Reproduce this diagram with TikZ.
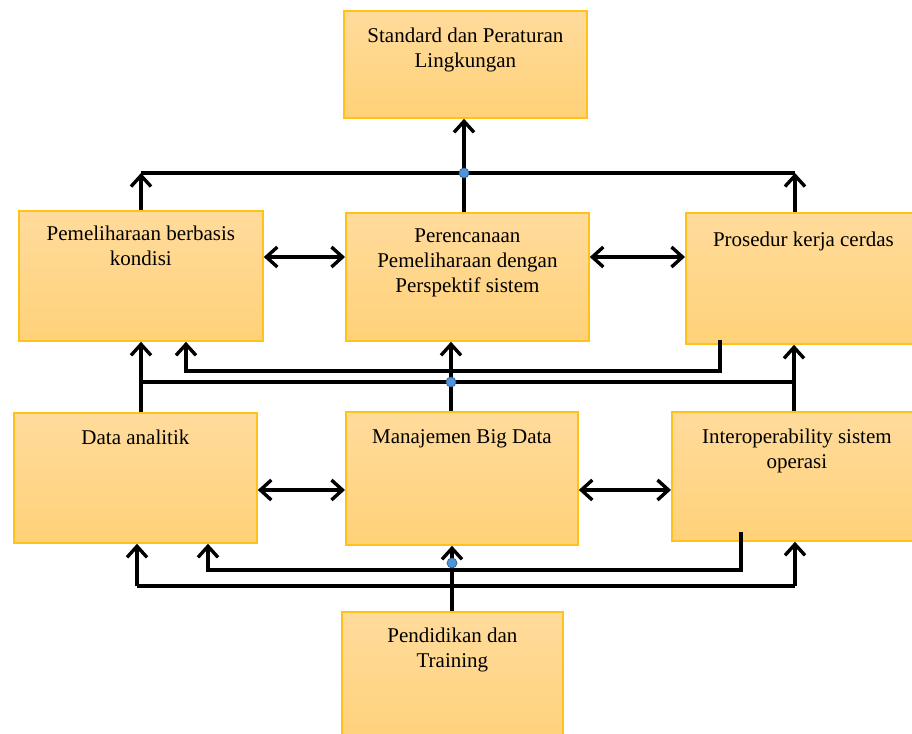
\documentclass[tikz,border=0pt]{standalone}
\usepackage{fontspec}
\setmainfont{Liberation Serif}
\usetikzlibrary{arrows.meta,calc}
\definecolor{boxtop}{HTML}{FFDB9C}
\definecolor{boxbot}{HTML}{FFD178}
\definecolor{boxedge}{HTML}{FFC21A}
\definecolor{dotblue}{HTML}{4F94DA}
\definecolor{dotedge}{HTML}{2E5F8F}
\begin{document}
\begin{tikzpicture}[x=1pt,y=-1pt,
  box/.style={draw=boxedge, line width=1.8pt, top color=boxtop, bottom color=boxbot, anchor=north west, inner sep=0pt},
  lbl/.style={anchor=north, align=center, inner sep=0pt, font=\fontsize{21}{25}\selectfont},
  conn/.style={line width=3.4pt, black},
  arr/.style={conn, -{Straight Barb[length=11pt,width=20pt]}},
  darr/.style={conn, {Straight Barb[length=11pt,width=20pt]}-{Straight Barb[length=11pt,width=20pt]}},
  dot/.style={circle, fill=dotblue, draw=dotedge, line width=0.7pt, inner sep=0pt, minimum size=10pt}]
\useasboundingbox (0,0) rectangle (912,733);
% boxes
\node[box, minimum width=243pt, minimum height=107pt] (std) at (343,10) {};
\node[box, minimum width=244pt, minimum height=130pt] (pem) at (18,210) {};
\node[box, minimum width=243pt, minimum height=128pt] (per) at (345,212) {};
\node[box, minimum width=235pt, minimum height=131pt] (pro) at (685,212) {};
\node[box, minimum width=243pt, minimum height=130pt] (da) at (13,412) {};
\node[box, minimum width=232pt, minimum height=133pt] (man) at (345,411) {};
\node[box, minimum width=250pt, minimum height=129pt] (itp) at (671,411) {};
\node[box, minimum width=221pt, minimum height=135pt] (pen) at (341,611) {};
% labels
\node[lbl] (std-t) at ([yshift=-18pt]std.north) {Standard dan Peraturan\\Lingkungan};
\node[lbl] (pem-t) at ([yshift=-16pt]pem.north) {Pemeliharaan berbasis\\kondisi};
\node[lbl] (per-t) at ([yshift=-17pt]per.north) {Perencanaan\\Pemeliharaan dengan\\Perspektif sistem};
\node[lbl] (pro-t) at ([yshift=-20pt]pro.north) {Prosedur kerja cerdas};
\node[lbl] (da-t) at ([yshift=-18pt]da.north) {Data analitik};
\node[lbl] (man-t) at ([yshift=-18pt]man.north) {Manajemen Big Data};
\node[lbl] (itp-t) at ([yshift=-18pt]itp.north) {Interoperability sistem\\operasi};
\node[lbl] (pen-t) at ([yshift=-17pt]pen.north) {Pendidikan dan\\Training};
% top level connectors
\coordinate (tl) at (141,173);
\coordinate (tr) at (795,173);
\coordinate (tm) at (464,173);
\draw[conn] (tl) -- (tr);
\draw[arr] (tl |- pem.north) -- (tl);
\draw[arr] (tr |- pro.north) -- (tr);
\draw[arr] (tm |- per.north) -- (tm |- std.south);
\node[dot] (d1) at (tm) {};
% middle level connectors
\coordinate (ml) at (141,382);
\coordinate (mr) at (794,382);
\coordinate (mm) at (451,382);
\draw[conn] (ml) -- (mr);
\draw[arr] (ml |- da.north) -- (ml |- pem.south);
\draw[arr] (mr |- itp.north) -- (mr |- pro.south);
\draw[arr] (mm |- man.north) -- (mm |- per.south);
\coordinate (la) at (720,371);
\coordinate (lb) at (186,371);
\draw[arr] ([yshift=5pt]la |- pro.south) -- (la) -- (lb) -- (lb |- pem.south);
\node[dot] (d2) at (mm) {};
% bottom level connectors
\coordinate (bl) at (137,586);
\coordinate (br) at (795,586);
\draw[conn] (bl) -- (br);
\draw[arr] (bl) -- (bl |- da.south);
\draw[arr] (br) -- (br |- itp.south);
\coordinate (ba) at (741,570);
\coordinate (bb) at (208,570);
\draw[arr] ([yshift=10pt]ba |- itp.south) -- (ba) -- (bb) -- (bb |- da.south);
\coordinate (bm) at (452,563);
\draw[arr] (bm |- pen.north) -- (bm |- man.south);
\node[dot] (d3) at (bm) {};
% horizontal double arrows
\coordinate (y1) at (0,257);
\coordinate (y2) at (0,490);
\draw[darr] (pem.east |- y1) -- (per.west |- y1);
\draw[darr] (per.east |- y1) -- (pro.west |- y1);
\draw[darr] (da.east |- y2) -- (man.west |- y2);
\draw[darr] (man.east |- y2) -- (itp.west |- y2);
\end{tikzpicture}
\end{document}
